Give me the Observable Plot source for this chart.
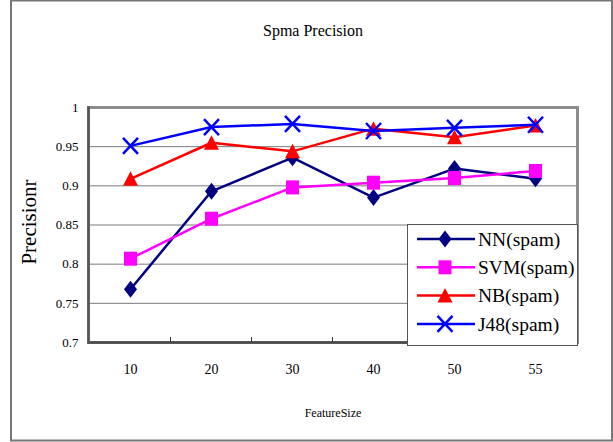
<!DOCTYPE html>
<html><head><meta charset="utf-8">
<script src="https://cdn.jsdelivr.net/npm/d3@7"></script>
<script src="https://cdn.jsdelivr.net/npm/@observablehq/plot@0.6"></script>
<style>body{margin:0;background:#fff} svg{display:block}</style>
</head><body><div id="chart"></div>
<script>
const featureSizes = [10, 20, 30, 40, 50, 55];
const nnValues  = [0.768, 0.893, 0.936, 0.885, 0.922, 0.909];
const svmValues = [0.807, 0.858, 0.898, 0.904, 0.910, 0.919];
const nbValues  = [0.909, 0.955, 0.944, 0.973, 0.962, 0.977];
const j48Values = [0.951, 0.975, 0.979, 0.970, 0.974, 0.978];
const seriesNames = ["NN(spam)", "SVM(spam)", "NB(spam)", "J48(spam)"];
const yTicks = [0.7, 0.75, 0.8, 0.85, 0.9, 0.95, 1];
const titleText = "Spma Precision";
const yLabelText = "Precisionr";
const xLabelText = "FeatureSize";

const font = "Liberation Serif";

// custom marker shapes (fixed pixel size)
const symDiamond = {draw(c){c.moveTo(0,-8.5);c.lineTo(6.5,0);c.lineTo(0,8.5);c.lineTo(-6.5,0);c.closePath();}};
const symSquare = {draw(c){c.rect(-6.5,-7,13,14);}};
const symTriangle = {draw(c){c.moveTo(0,-7.5);c.lineTo(7.5,7);c.lineTo(-7.5,7);c.closePath();}};
const symTimes = {draw(c){c.moveTo(-7.5,-8);c.lineTo(7.5,8);c.moveTo(7.5,-8);c.lineTo(-7.5,8);}};

const styles = [
  {color: "#000080", symbol: symDiamond, filled: true, lw: 2.5},
  {color: "#FF00FF", symbol: symSquare, filled: true, lw: 2.5},
  {color: "#FF0000", symbol: symTriangle, filled: true, lw: 2.5},
  {color: "#0000FF", symbol: symTimes, filled: false, lw: 2.5}
];
const allValues = [nnValues, svmValues, nbValues, j48Values];
const series = seriesNames.map((name, i) => ({
  name, ...styles[i],
  data: featureSizes.map((f, j) => ({size: f, value: allValues[i][j]}))
}));

const marks = [
  Plot.ruleY(yTicks.slice(1, -1), {stroke: "#7a7a7a", strokeWidth: 1}),
  Plot.frame({stroke: "#8c8c8c", strokeWidth: 3}),
  Plot.ruleY([0.7], {stroke: "#4a4a4a", strokeWidth: 2.5}),
  Plot.frame({anchor: "left", stroke: "#555", strokeWidth: 2.5}),
  Plot.axisX({tickSize: 0, tickPadding: 22, fontSize: 14, label: null}),
  Plot.axisY({ticks: yTicks, tickFormat: d => String(+d.toFixed(2)), tickSize: 0, tickPadding: 10, fontSize: 13, label: null})
];
for (const s of series) {
  marks.push(Plot.line(s.data, {x: "size", y: "value", stroke: s.color, strokeWidth: s.lw}));
  marks.push(Plot.dot(s.data, s.filled
    ? {x: "size", y: "value", symbol: () => s.symbol, fill: s.color, stroke: "none", r: 5}
    : {x: "size", y: "value", symbol: () => s.symbol, fill: "none", stroke: s.color, strokeWidth: 2.5, r: 5}));
}

const plot = Plot.plot({
  width: 613, height: 442,
  marginLeft: 88, marginRight: 36, marginTop: 107, marginBottom: 100,
  style: {background: "white", color: "#000"},
  x: {type: "point", domain: featureSizes, padding: 0.5},
  y: {domain: [0.7, 1]},
  marks
});
document.getElementById("chart").appendChild(plot);

const svg = d3.select(plot).attr("font-family", font);
const xs = plot.scale("x"), ys = plot.scale("y");
const step = xs.apply(featureSizes[1]) - xs.apply(featureSizes[0]);
const y0 = ys.apply(0.7);

// ticks between categories
svg.append("g").selectAll("line").data(featureSizes.slice(1)).join("line")
  .attr("x1", d => xs.apply(d) - step / 2).attr("x2", d => xs.apply(d) - step / 2)
  .attr("y1", y0).attr("y2", y0 - 5).attr("stroke", "#333").attr("stroke-width", 1);

// outer border
svg.append("rect").attr("x", 11).attr("y", 0.5).attr("width", 601).attr("height", 440)
  .attr("fill", "none").attr("stroke", "#777").attr("stroke-width", 2);

svg.append("text").attr("x", 313).attr("y", 36).attr("text-anchor", "middle")
  .attr("font-size", 16).text(titleText);
svg.append("text").attr("transform", "translate(36,222) rotate(-90)").attr("text-anchor", "middle")
  .attr("font-size", 21).text(yLabelText);
svg.append("text").attr("x", 333).attr("y", 417).attr("text-anchor", "middle")
  .attr("font-size", 12).text(xLabelText);

// legend
const lg = svg.append("g").attr("transform", "translate(407,224)");
lg.append("rect").attr("x", 0.5).attr("y", 0.5).attr("width", 170).attr("height", 121)
  .attr("fill", "white").attr("stroke", "#555").attr("stroke-width", 1);
series.forEach((s, i) => {
  const yy = 15 + i * 28.3;
  const g = lg.append("g").attr("transform", `translate(0,${yy})`);
  g.append("line").attr("x1", 10).attr("x2", 68).attr("y1", 0).attr("y2", 0)
    .attr("stroke", s.color).attr("stroke-width", s.lw);
  const p = d3.path(); s.symbol.draw(p);
  g.append("path").attr("transform", "translate(38,0)").attr("d", p.toString())
    .attr("fill", s.filled ? s.color : "none").attr("stroke", s.filled ? "none" : s.color)
    .attr("stroke-width", 2.5);
  g.append("text").attr("x", 71).attr("y", 0).attr("dy", "0.35em").attr("text-anchor", "start")
    .attr("font-size", 19.5).text(s.name);
});

// every text uses the serif family through a presentation attribute
svg.selectAll("text").attr("font-family", font);
svg.selectAll("g").attr("font-family", font);
</script>
</body></html>
